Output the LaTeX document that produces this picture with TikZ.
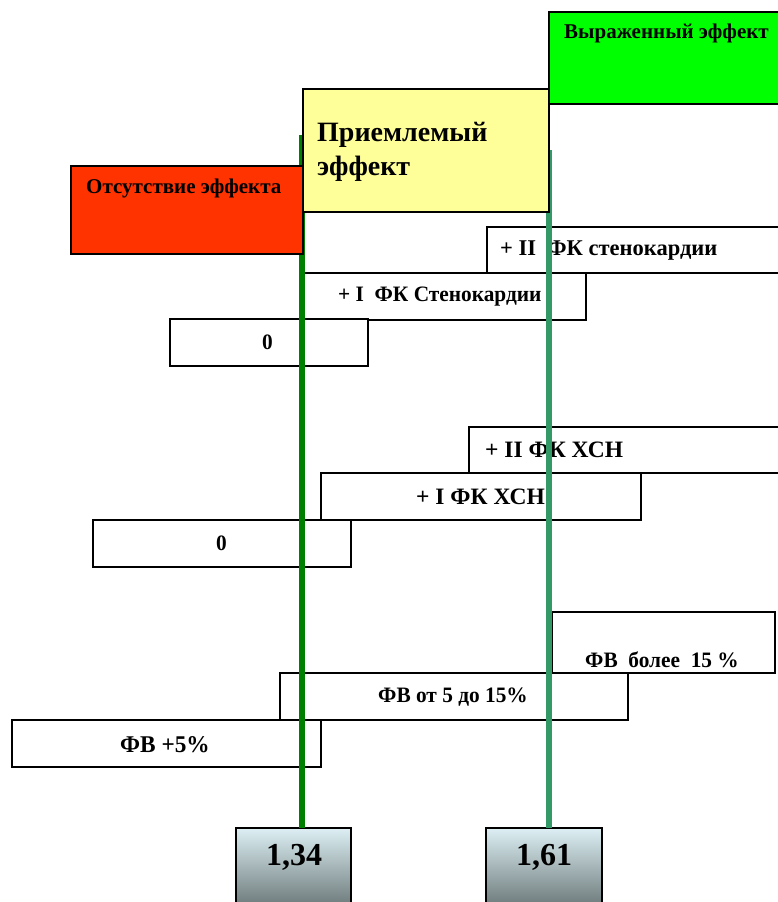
\documentclass[tikz,border=0pt]{standalone}
\usepackage{fontspec}
\setmainfont{Liberation Serif}
\newfontfamily\narrowfont[FakeStretch=0.97]{Liberation Serif}
\definecolor{brightgreen}{HTML}{00FF00}
\definecolor{paleyellow}{HTML}{FFFF99}
\definecolor{redorange}{HTML}{FF3300}
\definecolor{darkgreenline}{HTML}{008000}
\definecolor{seagreenline}{HTML}{339966}
\definecolor{gradtop}{HTML}{DDEFF4}
\definecolor{gradbot}{HTML}{5C6868}
\begin{document}
\begin{tikzpicture}[x=1pt,y=-1pt,
  wbox/.style={draw=black, line width=2.6pt, fill=white, anchor=north west, inner sep=0pt, outer sep=0pt},
  cbox/.style={draw=black, line width=1.5pt, anchor=north west, inner sep=0pt, outer sep=0pt},
  vbox/.style={draw=black, line width=2.6pt, anchor=north west, inner sep=0pt, outer sep=0pt, top color=gradtop, bottom color=gradbot},
  wtext/.style={font=\narrowfont\bfseries\fontsize{22}{24}\selectfont, inner sep=0pt, anchor=west},
  htext/.style={font=\bfseries\fontsize{23.5}{25}\selectfont, inner sep=0pt, anchor=west},
  ctext/.style={font=\bfseries\fontsize{21}{23}\selectfont, inner sep=0pt, anchor=west},
  bigtext/.style={font=\bfseries\fontsize{28}{34}\selectfont, inner sep=0pt, anchor=west, align=left},
  numtext/.style={font=\bfseries\fontsize{32}{34}\selectfont, inner sep=0pt},
  vline1/.style={draw=darkgreenline, line width=6pt},
  vline2/.style={draw=seagreenline, line width=5.5pt}]
\clip (0,0) rectangle (778,902);
\fill[white] (0,0) rectangle (778,902);

% white boxes: stenocardia
\node[wbox, minimum width=300, minimum height=46] (s2) at (487,227) {};
\node[wtext, font=\bfseries\fontsize{22.5}{24}\selectfont] (s2t) at (500,251) {+ II\ \ ФК стенокардии};
\node[wbox, minimum width=285, minimum height=47] (s1) at (301,273) {};
\node[wtext] (s1t) at (338,297) {+ I\ \ ФК Стенокардии};
\node[wbox, minimum width=198, minimum height=47] (s0) at (170,319) {};
\node[wtext] (s0t) at (262,342) {0};

% white boxes: CHF
\node[wbox, minimum width=320, minimum height=46] (h2) at (469,427) {};
\node[htext] (h2t) at (485,450) {+ II ФК ХСН};
\node[wbox, minimum width=320, minimum height=47] (h1) at (321,473) {};
\node[htext] (h1t) at (416,497) {+ I ФК ХСН};
\node[wbox, minimum width=258, minimum height=47] (h0) at (93,520) {};
\node[wtext] (h0t) at (216,543) {0};

% white boxes: EF
\node[wbox, minimum width=223, minimum height=61] (f2) at (552,612) {};
\node[wtext] (f2t) at (585,660) {ФВ\ \ более\ \ 15 \%};
\node[wbox, minimum width=348, minimum height=47] (f1) at (280,673) {};
\node[wtext] (f1t) at (378,697) {ФВ от 5 до 15\%};
\node[wbox, minimum width=309, minimum height=47] (f0) at (12,720) {};
\node[wtext, font=\narrowfont\bfseries\fontsize{24}{26}\selectfont] (f0t) at (120,745) {ФВ +5\%};

% bottom value boxes
\node[vbox, minimum width=115, minimum height=90] (v1) at (236,828) {};
\node[vbox, minimum width=116, minimum height=90] (v2) at (486,828) {};
\node[numtext] (v1t) at (294,857) {1,34};
\node[numtext] (v2t) at (544,857) {1,61};

% vertical lines
\coordinate (l1top) at (302,135);
\coordinate (l2top) at (549,150);
\draw[vline1] (l1top) -- (l1top |- v1.north);
\draw[vline2] (l2top) -- (l2top |- v2.north);

% coloured header boxes
\node[cbox, fill=brightgreen, minimum width=240, minimum height=92] (g) at (549,12) {};
\node[ctext] (gt) at (564,33) {Выраженный эффект};
\node[cbox, fill=redorange, minimum width=232, minimum height=88] (r) at (71,166) {};
\node[ctext] (rt) at (86,188) {Отсутствие эффекта};
\node[cbox, fill=paleyellow, minimum width=246, minimum height=123] (y) at (303,89) {};
\node[bigtext] (yt) at (317,152) {Приемлемый\\эффект};
\end{tikzpicture}
\end{document}
